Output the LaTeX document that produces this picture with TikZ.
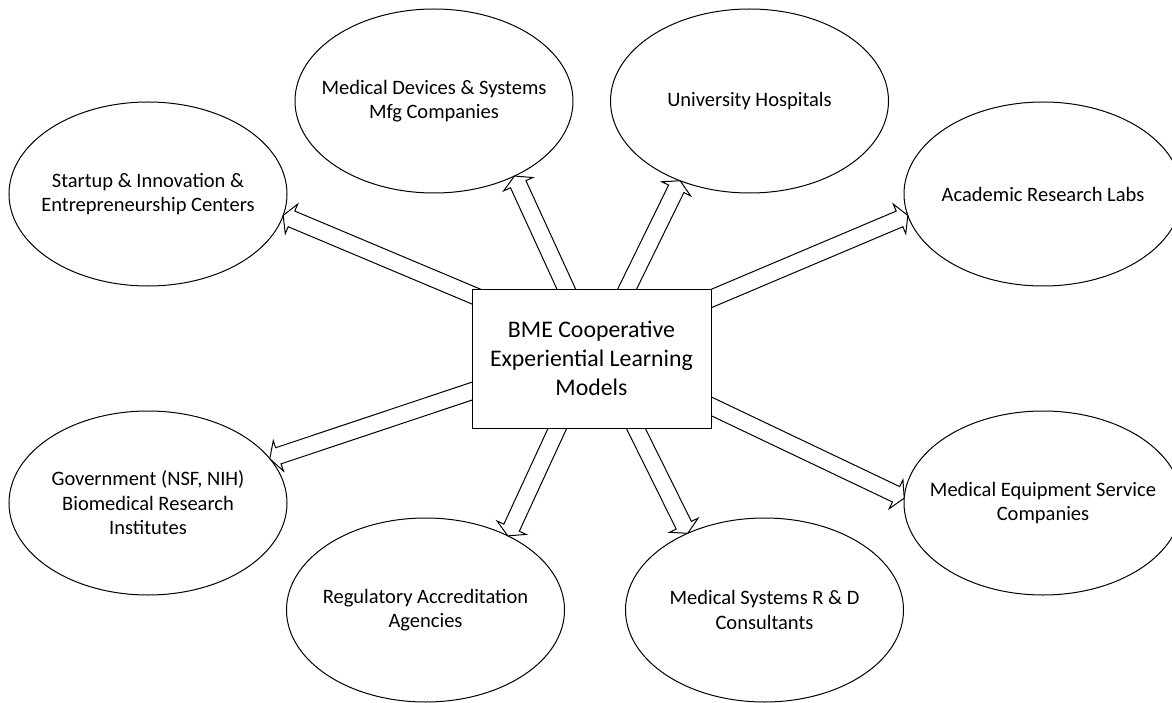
\documentclass[tikz,border=0pt]{standalone}
\usepackage{fontspec}
\setmainfont{Carlito}
\usetikzlibrary{calc,shapes.geometric}

\tikzset{
  partnertext/.style={align=center, inner sep=0pt, font=\fontsize{20.5}{24.5}\selectfont},
  partner/.style={ellipse, draw, line width=1pt, minimum width=278pt, minimum height=184pt,
    inner sep=0pt, outer sep=0pt, label={[partnertext]center:{#1}}},
  hub/.style={rectangle, draw, fill=white, line width=1pt, minimum width=239pt, minimum height=139pt,
    inner sep=0pt, outer sep=0pt, align=center, font=\fontsize{23.8}{29}\selectfont},
  blockarrow/.style={draw, fill=white, line width=1pt, line join=miter},
}

% hollow block arrow from #1 (hidden under the hub box) to the tip #2
\newcommand\blockarrow[2]{%
  \path ($(#2)!9pt!(#1)$) coordinate (headbase);
  \draw[blockarrow] ($(#1)!8.5pt!90:(#2)$) -- ($(headbase)!8.5pt!90:(#2)$)
    -- ($(headbase)!16pt!90:(#2)$) -- (#2) -- ($(headbase)!16pt!-90:(#2)$)
    -- ($(headbase)!8.5pt!-90:(#2)$) -- ($(#1)!8.5pt!-90:(#2)$) -- cycle;
}

\begin{document}
\begin{tikzpicture}[x=1pt, y=-1pt]
  \useasboundingbox (0,0) rectangle (1172,703);
  \clip (0,0) rectangle (1172,703);

  % partner organisations
  \node[partner={Startup \& Innovation \&\\Entrepreneurship Centers}] (startup) at (148,194) {};
  \node[partner={Medical Devices \& Systems\\Mfg Companies}] (devices) at (434,101) {};
  \node[partner={University Hospitals}] (hospital) at (749.5,101) {};
  \node[partner={Academic Research Labs}] (labs) at (1043,194) {};
  \node[partner={Government (NSF, NIH)\\Biomedical Research\\Institutes}] (gov) at (148,503) {};
  \node[partner={Regulatory Accreditation\\Agencies}] (reg) at (425.5,610) {};
  \node[partner={Medical Systems R \& D\\Consultants}] (rnd) at (764.5,610) {};
  \node[partner={Medical Equipment Service\\Companies}] (service) at (1043,503) {};

  % arrow roots inside the central box
  \coordinate (s1) at (495,304.5);
  \coordinate (s2) at (576.6,311.6);
  \coordinate (s3) at (616.2,311.4);
  \coordinate (s4) at (687.9,308.4);
  \coordinate (s5) at (495.7,383.2);
  \coordinate (s6) at (568,405.3);
  \coordinate (s7) at (624.5,405.5);
  \coordinate (s8) at (688.5,395.5);

  \blockarrow{s1}{startup.-9.67}
  \blockarrow{s2}{devices.-43.8}
  \blockarrow{s3}{hospital.229.2}
  \blockarrow{s4}{labs.189.6}
  \blockarrow{s5}{gov.20.5}
  \blockarrow{s6}{reg.42.3}
  \blockarrow{s7}{rnd.135.2}
  \blockarrow{s8}{service.178.8}

  % central box drawn last so it covers the arrow roots
  \node[hub] (hubbox) at (591.5,358.5) {BME Cooperative\\Experiential Learning\\Models};
\end{tikzpicture}
\end{document}
